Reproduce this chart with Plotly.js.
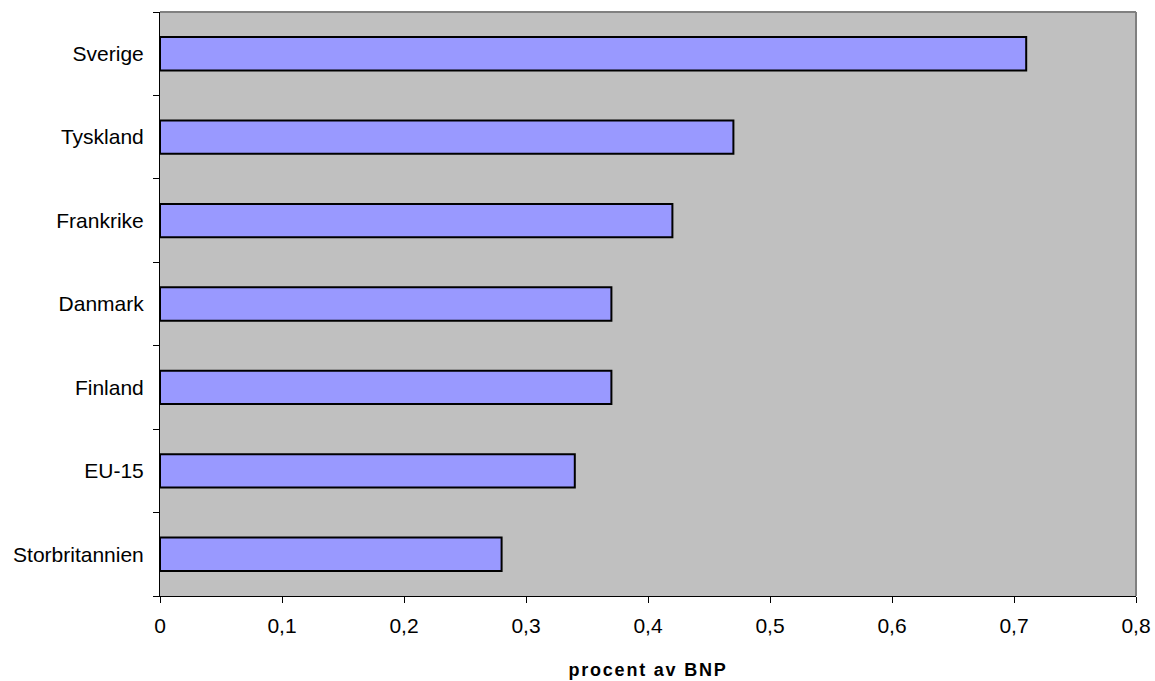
<!DOCTYPE html>
<html>
<head>
<meta charset="utf-8">
<script src="https://cdn.plot.ly/plotly-3.0.1.min.js"></script>
<style>html,body{margin:0;padding:0;background:#fff;}#chart{width:1155px;height:681px;}</style>
</head>
<body>
<div id="chart"></div>
<script>
const categories = ["Storbritannien", "EU-15", "Finland", "Danmark", "Frankrike", "Tyskland", "Sverige"];
const values = [0.28, 0.34, 0.37, 0.37, 0.42, 0.47, 0.71];
const xTickVals = [0, 0.1, 0.2, 0.3, 0.4, 0.5, 0.6, 0.7, 0.8];
const xTickText = ["0", "0,1", "0,2", "0,3", "0,4", "0,5", "0,6", "0,7", "0,8"];

const trace = {
  type: "bar",
  orientation: "h",
  x: values,
  y: categories,
  width: 0.4,
  marker: {color: "#9999FF", line: {color: "#000000", width: 2}},
  hoverinfo: "none"
};

const layout = {
  width: 1155, height: 681,
  margin: {l: 160, r: 19, t: 12, b: 85},
  paper_bgcolor: "#ffffff",
  plot_bgcolor: "#C0C0C0",
  font: {family: "Liberation Sans, Arial, sans-serif", size: 21, color: "#000"},
  showlegend: false,
  bargap: 0.6,
  xaxis: {
    range: [0, 0.8],
    tickvals: xTickVals,
    ticktext: xTickText,
    ticks: "outside", ticklen: 6, tickcolor: "#000", tickwidth: 1,
    showgrid: false, zeroline: false,
    showline: true, linecolor: "#000", linewidth: 1,
    tickfont: {size: 21},
    ticklabelstandoff: 5,
    title: {text: "<b>procent av BNP</b>", font: {size: 18}, standoff: 27}
  },
  yaxis: {
    type: "category",
    ticks: "outside", ticklen: 6, tickcolor: "#000", tickwidth: 1,
    tickson: "boundaries",
    showgrid: false, zeroline: false,
    showline: true, linecolor: "#000", linewidth: 1,
    tickfont: {size: 21},
    ticklabelstandoff: 11
  },
  shapes: [
    {type: "line", xref: "paper", yref: "paper", x0: 0, x1: 1, y0: 1, y1: 1, line: {color: "#808080", width: 2}},
    {type: "line", xref: "paper", yref: "paper", x0: 1, x1: 1, y0: 0, y1: 1, line: {color: "#808080", width: 2}}
  ]
};

Plotly.newPlot("chart", [trace], layout, {displayModeBar: false, staticPlot: true}).then(function () {
  document.querySelectorAll(".xtitle").forEach(function (el) {
    el.style.letterSpacing = "1.8px";
  });
});
</script>
</body>
</html>
